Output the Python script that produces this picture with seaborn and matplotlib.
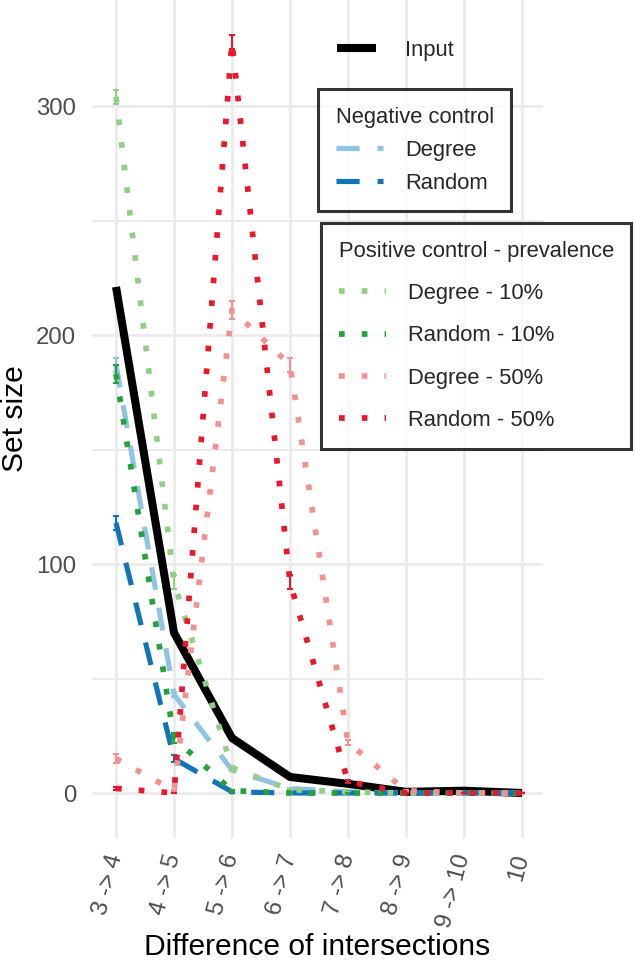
import numpy as np
import pandas as pd
import matplotlib
matplotlib.use("Agg")
import matplotlib.pyplot as plt
from matplotlib.lines import Line2D
from matplotlib.ticker import MultipleLocator
import seaborn as sns

# ---------------- data ----------------
categories = ["3 -> 4", "4 -> 5", "5 -> 6", "6 -> 7", "7 -> 8", "8 -> 9", "9 -> 10", "10"]

input_vals = [221, 70, 24, 7, 4, 0.5, 1, 0]

neg_degree = [187, 43, 10, 2, 0.5, 0, 0, 0]
neg_degree_err = [3, 1, 0.5, 0.3, 0, 0, 0, 0]
neg_random = [118, 15, 0.5, 0, 0, 0, 0, 0]
neg_random_err = [3, 1.5, 0.3, 0, 0, 0, 0, 0]

pos_degree10 = [304, 92, 11, 1.5, 0.5, 0, 0, 0]
pos_degree10_err = [3, 3, 1, 0.3, 0, 0, 0, 0]
pos_random10 = [183, 24, 1, 0, 0, 0, 0, 0]
pos_random10_err = [4, 2, 0.5, 0, 0, 0, 0, 0]
pos_degree50 = [15, 1, 211, 187, 22, 1, 0, 0]
pos_degree50_err = [2, 0.5, 4, 3, 1, 0.3, 0, 0]
pos_random50 = [2, 0, 328, 92, 5, 0, 0, 0]
pos_random50_err = [0.5, 0, 3, 3, 0.5, 0, 0, 0]

series_names = ["Input", "Neg Degree", "Neg Random",
                "Degree - 10%", "Random - 10%", "Degree - 50%", "Random - 50%"]
series_vals = [input_vals, neg_degree, neg_random,
               pos_degree10, pos_random10, pos_degree50, pos_random50]
series_err = [None, neg_degree_err, neg_random_err,
              pos_degree10_err, pos_random10_err, pos_degree50_err, pos_random50_err]

# ---------------- styles ----------------
colors = ["black", "#90C4E4", "#1174B9", "#92CF84", "#27A03E", "#F39092", "#E8192C"]
dashes = [(None, None), (4.5, 3.5), (4.5, 3.5), (1, 3.0), (1, 3.0), (1, 3.0), (1, 3.0)]
widths = [5.8, 3.7, 3.7, 4.1, 4.1, 4.1, 4.1]

sns.set_theme(style="white")
plt.rcParams["font.family"] = ["Liberation Sans", "DejaVu Sans"]

W, H, DPI = 635, 963, 100
fig = plt.figure(figsize=(W / DPI, H / DPI), dpi=DPI)
ax = fig.add_axes([92 / W, (H - 838) / H, (543 - 92) / W, 838 / H])

xpos = np.arange(len(categories))
for name, vals, err, col, ds, lw in zip(series_names, series_vals, series_err,
                                         colors, dashes, widths):
    df = pd.DataFrame({"x": xpos, "y": vals})
    sns.lineplot(data=df, x="x", y="y", ax=ax, color=col, linewidth=lw,
                 legend=False, solid_capstyle="butt")
    line = ax.lines[-1]
    if ds[0] is not None:
        line.set_dashes(ds)
        line.set_dash_capstyle("butt")
    if err is not None:
        ax.errorbar(xpos, vals, yerr=err, fmt="none", ecolor=col,
                    elinewidth=1.5, capsize=2.4, capthick=1.5)

# ---------------- axes ----------------
ax.set_xlim(-0.414, 7.362)
ax.set_ylim(-19.65, 346.3)
ax.set_xticks(xpos)
ax.set_xticklabels(categories)
ax.yaxis.set_major_locator(MultipleLocator(100))
ax.yaxis.set_minor_locator(MultipleLocator(50))
ax.grid(True, which="major", color="#EBEBEB", linewidth=2.0)
ax.grid(True, which="minor", axis="y", color="#EBEBEB", linewidth=1.5)
ax.set_axisbelow(True)
for s in ax.spines.values():
    s.set_visible(False)
ax.tick_params(axis="both", which="both", length=0, labelsize=17.3,
               labelcolor="#4D4D4D")
ax.tick_params(axis="y", pad=11.5)
ax.tick_params(axis="x", pad=12)
for lab in ax.get_xticklabels():
    lab.set_rotation(75)
    lab.set_ha("right")
    lab.set_va("center")
    lab.set_rotation_mode("anchor")
ax.set_xlabel("Difference of intersections", fontsize=21.6, color="black", labelpad=2)
ax.set_ylabel("Set size", fontsize=21.6, color="black", labelpad=5)

# ---------------- legends ----------------
def mk(i):
    h = Line2D([], [], color=colors[i], linewidth=widths[i])
    if dashes[i][0] is not None:
        h.set_dashes(dashes[i])
        h.set_dash_capstyle("butt")
    else:
        h.set_solid_capstyle("butt")
    return h

FS = 15.84

def fxy(px, py):
    return (px / W, 1 - py / H)

leg1 = fig.legend([mk(0)], ["Input"], loc="upper left", bbox_to_anchor=fxy(337, 40),
                  frameon=False, fontsize=FS, borderpad=0, borderaxespad=0,
                  handlelength=1.75, handletextpad=1.35)

leg2 = fig.legend([mk(1), mk(2)], ["Degree", "Random"], loc="upper left",
                  bbox_to_anchor=fxy(318, 89), title="Negative control",
                  title_fontsize=FS, fontsize=FS, alignment="left",
                  frameon=True, fancybox=False, edgecolor="black",
                  borderpad=0.8, borderaxespad=0, labelspacing=0.55,
                  handlelength=2.15, handletextpad=1.0)
leg2.get_frame().set_linewidth(2.2)

leg3 = fig.legend([mk(3), mk(4), mk(5), mk(6)],
                  ["Degree - 10%", "Random - 10%", "Degree - 50%", "Random - 50%"],
                  loc="upper left", bbox_to_anchor=fxy(321, 223),
                  title="Positive control - prevalence",
                  title_fontsize=FS, fontsize=FS, alignment="left",
                  frameon=True, fancybox=False, edgecolor="black",
                  borderpad=0.8, borderaxespad=0, labelspacing=0.97,
                  handlelength=2.15, handletextpad=1.0)
leg3.get_frame().set_linewidth(2.2)

fig.savefig("out.png", dpi=DPI)
